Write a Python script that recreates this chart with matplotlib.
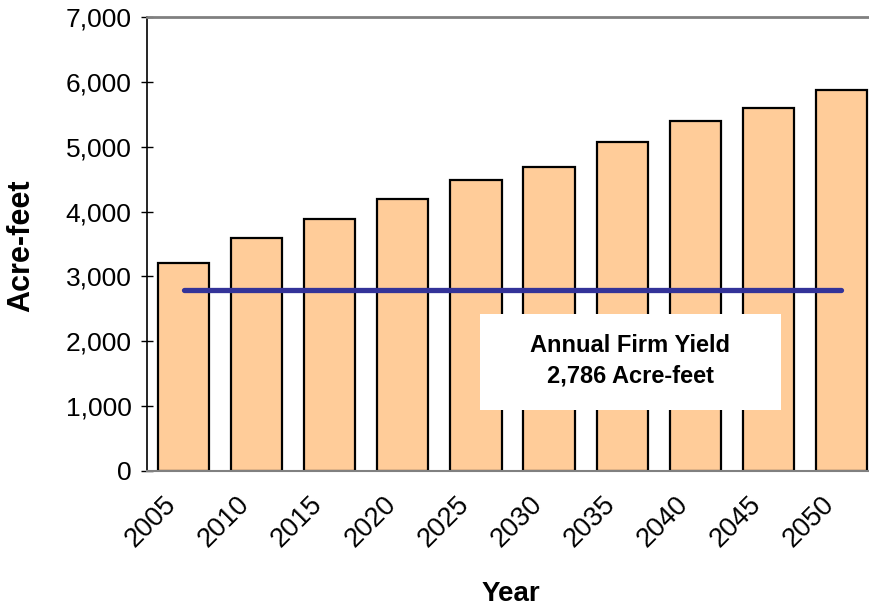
import matplotlib
matplotlib.use("Agg")
import matplotlib.pyplot as plt
from matplotlib.patches import Rectangle
from matplotlib.transforms import ScaledTranslation

plt.rcParams["font.family"] = ["Liberation Sans", "DejaVu Sans"]

years = ["2005", "2010", "2015", "2020", "2025", "2030", "2035", "2040", "2045", "2050"]
demand = [3200, 3600, 3880, 4200, 4480, 4680, 5070, 5390, 5600, 5880]
firm_yield = 2786

fig = plt.figure(figsize=(8.7, 6.1), dpi=100)
# right edge of the plot frame runs past the image edge, as in the original
ax = fig.add_axes([147 / 870, 1 - 471 / 610, 731 / 870, 454 / 610])

x = list(range(len(years)))
ax.bar(x, demand, width=0.7, color="#FFCC99", edgecolor="black", linewidth=1.6, zorder=2)
ax.plot([x[0], x[-1]], [firm_yield, firm_yield], color="#333399", linewidth=3.8,
        solid_capstyle="round", zorder=3)

ax.add_patch(Rectangle((0.4555, 0.134), 0.4115, 0.2118, transform=ax.transAxes,
                       facecolor="white", edgecolor="none", zorder=4))
ax.text(0.661, 0.243, "Annual Firm Yield\n2,786 Acre-feet", transform=ax.transAxes,
        ha="center", va="center", fontsize=17, fontweight="bold", linespacing=1.4, zorder=5)

ax.set_xlim(-0.5, 9.5)
ax.set_ylim(0, 7000)
ax.set_yticks(range(0, 7001, 1000))
ax.set_yticklabels([f"{v:,}" for v in range(0, 7001, 1000)], fontsize=19)
ax.set_xticks(x)
ax.set_xticklabels(years, fontsize=19.5, rotation=45, ha="right", va="center",
                   rotation_mode="anchor")
ax.tick_params(axis="y", direction="inout", length=8, width=1, pad=7)
ax.tick_params(axis="x", length=0, pad=21)
shift = ScaledTranslation(-11 / 100, 0, fig.dpi_scale_trans)
for lab in ax.get_xticklabels():
    lab.set_transform(lab.get_transform() + shift)

ax.spines["left"].set_color("black")
ax.spines["left"].set_linewidth(1.2)
ax.spines["top"].set_color("#808080")
ax.spines["top"].set_linewidth(2)
ax.spines["bottom"].set_color("#808080")
ax.spines["bottom"].set_linewidth(1.5)
ax.spines["right"].set_color("#808080")

ax.set_ylabel("Acre-feet", fontsize=22, fontweight="bold")
ax.yaxis.set_label_coords(-0.152, 0.497)
ax.set_xlabel("Year", fontsize=20, fontweight="bold")
ax.xaxis.set_label_coords(0.498, -0.243)

fig.savefig("out.png", dpi=100)
